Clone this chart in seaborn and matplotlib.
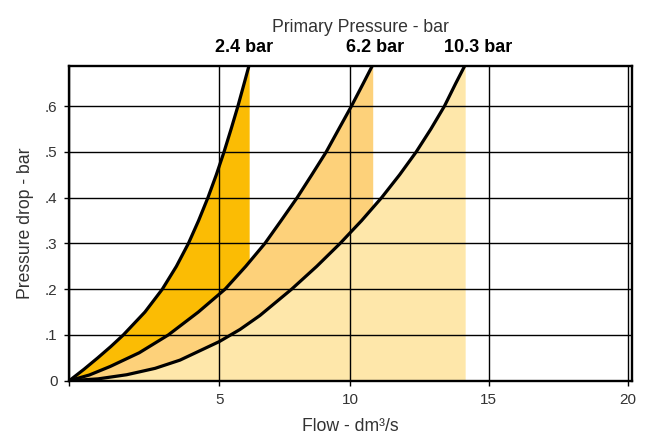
import matplotlib
matplotlib.use("Agg")
import matplotlib.pyplot as plt
import seaborn as sns
import pandas as pd
import numpy as np

# ---- data ----
flow_24 = [0, 0.49, 0.95, 1.39, 1.80, 2.52, 3.10, 3.57, 3.97, 4.31, 4.62, 4.90, 5.18, 5.45, 5.71, 5.95, 6.14]
dp_24 = [0, 0.025, 0.05, 0.075, 0.1, 0.15, 0.2, 0.25, 0.3, 0.35, 0.4, 0.45, 0.5, 0.55, 0.6, 0.65, 0.69]
flow_62 = [0, 0.67, 1.36, 2.33, 3.30, 4.30, 5.22, 6.01, 6.74, 7.36, 7.97, 8.53, 9.08, 9.56, 10.04, 10.47, 10.81]
dp_62 = [0, 0.0125, 0.031, 0.061, 0.1, 0.15, 0.2, 0.25, 0.3, 0.35, 0.4, 0.45, 0.5, 0.55, 0.6, 0.65, 0.69]
flow_103 = [0, 0.96, 1.91, 2.86, 3.69, 5.00, 5.79, 6.55, 7.76, 8.72, 9.61, 10.41, 11.13, 11.78, 12.38, 12.91, 13.40, 13.81, 14.15]
dp_103 = [0, 0.004, 0.013, 0.027, 0.045, 0.0855, 0.112, 0.1425, 0.2, 0.25, 0.3, 0.35, 0.4, 0.45, 0.5, 0.55, 0.6, 0.65, 0.69]

series_labels = ["2.4 bar", "6.2 bar", "10.3 bar"]
label_x = [5.95, 10.90, 14.61]
fill_colors = ["#FBBC04", "#FDD17A", "#FEE7AA"]

x_ticks = [0, 5, 10, 15, 20]
x_ticklabels = ["", "5", "10", "15", "20"]
y_ticks = [0, 0.1, 0.2, 0.3, 0.4, 0.5, 0.6]
y_ticklabels = ["0", ".1", ".2", ".3", ".4", ".5", ".6"]

# the printed flow axis is not evenly spaced: tick spacing as drawn in the original
axis_knots = [-5, 0, 5, 10, 15, 20, 25]
axis_spacing = [-80.7, 69.3, 219.3, 350.3, 488.7, 627.7, 766.7]

sns.set_theme(style="white")
plt.rcParams["font.family"] = ["Liberation Sans", "DejaVu Sans"]

frames = []
for lab, fx, fy in zip(series_labels, [flow_24, flow_62, flow_103], [dp_24, dp_62, dp_103]):
    frames.append(pd.DataFrame({"flow": fx, "dp": fy, "series": lab}))
df = pd.concat(frames, ignore_index=True)

W, H = 648, 437
fig = plt.figure(figsize=(W / 100, H / 100), dpi=100)
ax = fig.add_axes([69.3 / W, 1 - 380.7 / H, (632 - 69.3) / W, (380.7 - 65.7) / H])

kv = np.array(axis_knots, float)
kp = np.array(axis_spacing, float)
ax.set_xscale("function", functions=(lambda v: np.interp(v, kv, kp),
                                     lambda p: np.interp(p, kp, kv)))

# fills (dark first, light last)
for i, lab in enumerate(series_labels):
    d = df[df["series"] == lab]
    ax.fill_between(d["flow"], 0, d["dp"], color=fill_colors[i], lw=0, zorder=1 + 0.1 * i)

# curves
for lab in series_labels:
    d = df[df["series"] == lab]
    sns.lineplot(data=d, x="flow", y="dp", sort=False, color="black", lw=2.3,
                 ax=ax, zorder=4, legend=False, solid_joinstyle="round",
                 solid_capstyle="round")

ax.set_xlim(0, 20.155)
ax.set_ylim(0, 0.6885)
ax.set_xticks(x_ticks)
ax.set_xticklabels(x_ticklabels)
ax.set_xticks([], minor=True)
ax.set_yticks(y_ticks)
ax.set_yticklabels(y_ticklabels)

ax.set_axisbelow(False)
ax.grid(True, which="major", color="black", lw=1.0, zorder=2.5)

for s in ax.spines.values():
    s.set_color("black")
    s.set_linewidth(1.7)
    s.set_zorder(5)

ax.tick_params(axis="both", which="both", direction="out", length=3.5, width=1.0,
               color="black", labelsize=11, labelcolor="#333333")
ax.tick_params(axis="y", pad=5, left=True)
ax.tick_params(axis="x", pad=5, bottom=True)

ax.set_xlabel("Flow - dm³/s", fontsize=12.7, color="#333333", labelpad=8)
ax.set_ylabel("Pressure drop - bar", fontsize=12.7, color="#333333", labelpad=8)

trans = ax.get_xaxis_transform()
for lab, lx in zip(series_labels, label_x):
    ax.text(lx, 1.0435, lab, transform=trans, ha="center", va="baseline",
            fontsize=13, fontweight="bold", color="black")

ax.text(0.517, 1.107, "Primary Pressure - bar", transform=ax.transAxes,
        ha="center", va="baseline", fontsize=12.7, color="#333333")

fig.savefig("out.png", dpi=100)
